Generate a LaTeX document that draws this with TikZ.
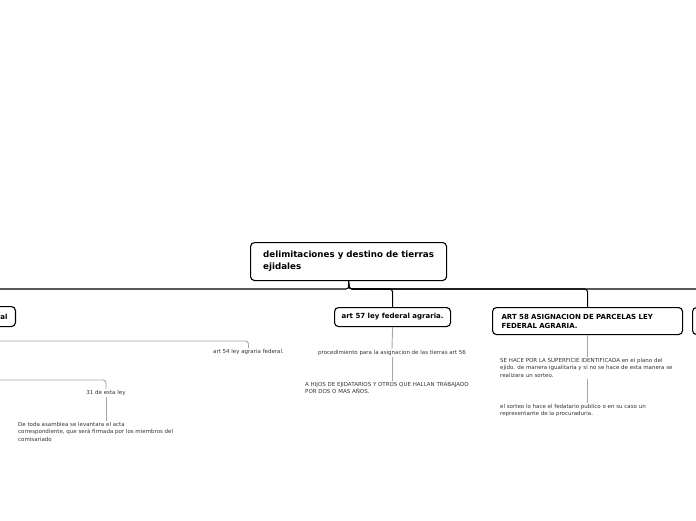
\documentclass[tikz,border=0pt]{standalone}
\usepackage{fontspec}
\setmainfont{DejaVu Sans}
\begin{document}
\begin{tikzpicture}[x=1pt,y=-1pt,
  box/.style={draw=black, line width=1.1pt, rounded corners=4pt, fill=white,
    font=\bfseries\fontsize{7}{9}\selectfont, inner ysep=0pt},
  note/.style={font=\fontsize{5.5}{7.5}\selectfont, text=black!80, align=left, inner sep=1pt},
  mainline/.style={draw=black, line width=1.1pt, rounded corners=3pt},
  subline/.style={draw=black!35, line width=0.9pt, rounded corners=3pt}]
\useasboundingbox (0,0) rectangle (696,520);
\clip (0,0) rectangle (696,520);

% boxes
\node[box, anchor=north west, minimum width=196pt, minimum height=38pt,
  inner xsep=4pt, align=left, font=\bfseries\fontsize{8.7}{12}\selectfont] (root) at (250,242)
  {delimitaciones y destino de tierras\\ejidales};
\node[box, anchor=north east, minimum height=20pt, text width=84pt, inner xsep=8pt, align=right] (leftbox) at (16,306) {ral};
\node[box, anchor=north west, minimum width=116pt, minimum height=19pt, inner xsep=4pt] (art57) at (334,307) {art 57 ley federal agraria.};
\node[box, anchor=north west, minimum height=27pt, text width=172pt, inner xsep=9pt, align=left] (art58) at (492,307)
  {ART 58 ASIGNACION DE PARCELAS LEY\\FEDERAL AGRARIA.};
\node[box, anchor=north west, minimum width=190pt, minimum height=27pt] (rightbox) at (692,307) {};

% notes
\node[note, anchor=north] (n54) at (248.5,348) {art 54 ley agraria federal.};
\node[note, anchor=north] (n31) at (106,389) {31 de esta ley};
\node[note, anchor=north west] (detoda) at (17,421)
  {De toda asamblea se levantara el acta\\correspondiente, que será firmada por los miembros del\\comisariado};
\node[note, anchor=north] (proc) at (392,349) {procedimiento para la asignacion de las tierras art 56};
\node[note, anchor=north west] (hijos) at (304,381)
  {A HIJOS DE EJIDATARIOS Y OTROS QUE HALLAN TRABAJADO\\POR DOS O MAS AÑOS.};
\node[note, anchor=north west] (sehace) at (499,357)
  {SE HACE POR LA SUPERFICIE IDENTIFICADA en el plano del\\ejido. de manera igualitaria y si no se hace de esta manera se\\realizara un sorteo.};
\node[note, anchor=north west] (sorteo) at (499,403)
  {el sorteo lo hace el fedatario publico o en su caso un\\representante de la procuraduria.};

% coordinates
\coordinate (bus) at (349,289);
\coordinate (busL) at (-20,289);
\coordinate (busR) at (720,289);
\coordinate (L1) at (-20,341);
\coordinate (L2) at (-20,380);

% main connectors
\draw[mainline] (root.south) -- (bus) -- (busL);
\draw[mainline] (root.south) -- (bus) -- (busR);
\draw[mainline] (root.south) -- (bus) -| (art57.north);
\draw[mainline] (root.south) -- (bus) -| (art58.north);

% sub connectors
\draw[subline] (L1) -| (n54.north);
\draw[subline] (L2) -| (n31.north);
\draw[subline] (n31.south) -- (n31.south |- detoda.north);
\draw[subline] (art57.south) -- (proc.north);
\draw[subline] (proc.south) -- (proc.south |- hijos.north);
\draw[subline] (art58.south) -- (art58.south |- sehace.north);
\draw[subline] (art58.south |- sehace.south) -- (art58.south |- sorteo.north);
\end{tikzpicture}
\end{document}
